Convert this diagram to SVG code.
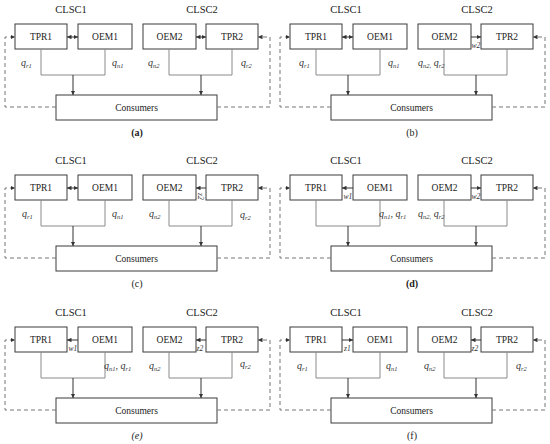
<svg xmlns="http://www.w3.org/2000/svg" width="550" height="444" viewBox="0 0 550 444">
<style>
.bg{fill:#fff}
.box{fill:#fff;stroke:#3a3a3a;stroke-width:1}
text{font-family:'Liberation Serif','Times New Roman','DejaVu Serif',serif}
.t{font-size:9.5px;fill:#222;text-anchor:middle}
.h{font-size:10.5px;fill:#222;text-anchor:middle}
.cap{font-size:10px;fill:#222;text-anchor:middle}
.q{font-size:10px;font-style:italic;fill:#333}
.s{font-size:6.5px}
.sm{font-size:7.5px;font-style:italic;fill:#333}
.tree{fill:none;stroke:#8a8a8a;stroke-width:1}
.down{fill:none;stroke:#333;stroke-width:1;marker-end:url(#ah)}
.link{fill:none;stroke:#333;stroke-width:1}
.dash{fill:none;stroke:#777;stroke-width:1;stroke-dasharray:4 3}
</style>
<defs>
<marker id="ah" viewBox="0 0 6 6" refX="6" refY="3" markerWidth="4.5" markerHeight="4.5" markerUnits="userSpaceOnUse" orient="auto-start-reverse">
<path d="M0,0 L6,3 L0,6 z" fill="#333"/>
</marker>
</defs>
<rect class="bg" x="0" y="0" width="550" height="444"/>

<!-- Panel a -->
<g id="panel-a" transform="translate(0,0)">
<text class="h" x="71" y="13">CLSC1</text>
<text class="h" x="202" y="13">CLSC2</text>
<g id="a-tpr1"><rect class="box" x="15" y="24" width="52" height="25"/><text class="t" x="41" y="40">TPR1</text></g>
<g id="a-oem1"><rect class="box" x="78" y="24" width="54" height="25"/><text class="t" x="105" y="40">OEM1</text></g>
<g id="a-oem2"><rect class="box" x="143" y="24" width="53" height="25"/><text class="t" x="169.5" y="40">OEM2</text></g>
<g id="a-tpr2"><rect class="box" x="206" y="24" width="52" height="25"/><text class="t" x="232" y="40">TPR2</text></g>
<g id="a-cons"><rect class="box" x="56" y="95" width="161" height="25"/><text class="t" x="136.5" y="111">Consumers</text></g>
<g id="a-connectors">
<path class="tree" d="M41,49 V75 H105 V49"/>
<path class="tree" d="M169,49 V75 H232 V49"/>
<path class="down" d="M73,75 V95"/>
<path class="down" d="M201,75 V95"/>
<path class="link" d="M67,37 H78" marker-start="url(#ah)" marker-end="url(#ah)"/>
<path class="link" d="M196,37 H206" marker-start="url(#ah)" marker-end="url(#ah)"/>
<path class="dash" d="M56,107 H5 V37 H15" marker-end="url(#ah)"/>
<path class="dash" d="M217,107 H270 V37 H258" marker-end="url(#ah)"/>
<text class="q" x="21" y="66">q<tspan class="s" dy="2">r1</tspan></text>
<text class="q" x="112" y="66">q<tspan class="s" dy="2">n1</tspan></text>
<text class="q" x="148" y="66">q<tspan class="s" dy="2">n2</tspan></text>
<text class="q" x="241" y="66">q<tspan class="s" dy="2">r2</tspan></text>
</g>
<text class="cap" x="137" y="136" font-weight="bold">(a)</text>
</g>

<!-- Panel b -->
<g id="panel-b" transform="translate(275,0)">
<text class="h" x="71" y="13">CLSC1</text>
<text class="h" x="202" y="13">CLSC2</text>
<g id="b-tpr1"><rect class="box" x="15" y="24" width="52" height="25"/><text class="t" x="41" y="40">TPR1</text></g>
<g id="b-oem1"><rect class="box" x="78" y="24" width="54" height="25"/><text class="t" x="105" y="40">OEM1</text></g>
<g id="b-oem2"><rect class="box" x="143" y="24" width="53" height="25"/><text class="t" x="169.5" y="40">OEM2</text></g>
<g id="b-tpr2"><rect class="box" x="206" y="24" width="52" height="25"/><text class="t" x="232" y="40">TPR2</text></g>
<g id="b-cons"><rect class="box" x="56" y="95" width="161" height="25"/><text class="t" x="136.5" y="111">Consumers</text></g>
<g id="b-connectors">
<path class="tree" d="M41,49 V75 H105 V49"/>
<path class="tree" d="M169,49 V75 H232 V49"/>
<path class="down" d="M73,75 V95"/>
<path class="down" d="M201,75 V95"/>
<path class="link" d="M67,37 H78" marker-start="url(#ah)" marker-end="url(#ah)"/>
<path class="link" d="M196,37 H206" marker-end="url(#ah)"/>
<text class="sm" x="196.5" y="48">w2</text>
<path class="dash" d="M56,107 H5 V37 H15" marker-end="url(#ah)"/>
<path class="dash" d="M217,107 H270 V37 H258" marker-end="url(#ah)"/>
<text class="q" x="24" y="66">q<tspan class="s" dy="2">r1</tspan></text>
<text class="q" x="113" y="66">q<tspan class="s" dy="2">n1</tspan></text>
<text class="q" x="143" y="66">q<tspan class="s" dy="2">n2,</tspan><tspan dy="-2"> q</tspan><tspan class="s" dy="2">r2</tspan></text>
</g>
<text class="cap" x="137" y="136">(b)</text>
</g>

<!-- Panel c -->
<g id="panel-c" transform="translate(0,151)">
<text class="h" x="71" y="13">CLSC1</text>
<text class="h" x="202" y="13">CLSC2</text>
<g id="c-tpr1"><rect class="box" x="15" y="24" width="52" height="25"/><text class="t" x="41" y="40">TPR1</text></g>
<g id="c-oem1"><rect class="box" x="78" y="24" width="54" height="25"/><text class="t" x="105" y="40">OEM1</text></g>
<g id="c-oem2"><rect class="box" x="143" y="24" width="53" height="25"/><text class="t" x="169.5" y="40">OEM2</text></g>
<g id="c-tpr2"><rect class="box" x="206" y="24" width="52" height="25"/><text class="t" x="232" y="40">TPR2</text></g>
<g id="c-cons"><rect class="box" x="56" y="95" width="161" height="25"/><text class="t" x="136.5" y="111">Consumers</text></g>
<g id="c-connectors">
<path class="tree" d="M41,49 V75 H105 V49"/>
<path class="tree" d="M169,49 V75 H232 V49"/>
<path class="down" d="M73,75 V95"/>
<path class="down" d="M201,75 V95"/>
<path class="link" d="M67,37 H78" marker-start="url(#ah)" marker-end="url(#ah)"/>
<path class="link" d="M206,37 H196" marker-end="url(#ah)"/>
<text class="sm" x="0" y="0" transform="translate(198,42) rotate(90)">z2</text>
<path class="dash" d="M56,107 H5 V37 H15" marker-end="url(#ah)"/>
<path class="dash" d="M217,107 H270 V37 H258" marker-end="url(#ah)"/>
<text class="q" x="22" y="66">q<tspan class="s" dy="2">r1</tspan></text>
<text class="q" x="112" y="66">q<tspan class="s" dy="2">n1</tspan></text>
<text class="q" x="149" y="66">q<tspan class="s" dy="2">n2</tspan></text>
<text class="q" x="240" y="67">q<tspan class="s" dy="2">r2</tspan></text>
</g>
<text class="cap" x="137" y="136">(c)</text>
</g>

<!-- Panel d -->
<g id="panel-d" transform="translate(275,151)">
<text class="h" x="71" y="13">CLSC1</text>
<text class="h" x="202" y="13">CLSC2</text>
<g id="d-tpr1"><rect class="box" x="15" y="24" width="52" height="25"/><text class="t" x="41" y="40">TPR1</text></g>
<g id="d-oem1"><rect class="box" x="78" y="24" width="54" height="25"/><text class="t" x="105" y="40">OEM1</text></g>
<g id="d-oem2"><rect class="box" x="143" y="24" width="53" height="25"/><text class="t" x="169.5" y="40">OEM2</text></g>
<g id="d-tpr2"><rect class="box" x="206" y="24" width="52" height="25"/><text class="t" x="232" y="40">TPR2</text></g>
<g id="d-cons"><rect class="box" x="56" y="95" width="161" height="25"/><text class="t" x="136.5" y="111">Consumers</text></g>
<g id="d-connectors">
<path class="tree" d="M41,49 V75 H105 V49"/>
<path class="tree" d="M169,49 V75 H232 V49"/>
<path class="down" d="M73,75 V95"/>
<path class="down" d="M201,75 V95"/>
<path class="link" d="M78,37 H67" marker-end="url(#ah)"/>
<text class="sm" x="68.5" y="48">w1</text>
<path class="link" d="M196,37 H206" marker-end="url(#ah)"/>
<text class="sm" x="196.5" y="48">w2</text>
<path class="dash" d="M56,107 H5 V37 H15" marker-end="url(#ah)"/>
<path class="dash" d="M217,107 H270 V37 H258" marker-end="url(#ah)"/>
<text class="q" x="104" y="66">q<tspan class="s" dy="2">n1</tspan><tspan dy="-2">, q</tspan><tspan class="s" dy="2">r1</tspan></text>
<text class="q" x="143" y="66">q<tspan class="s" dy="2">n2,</tspan><tspan dy="-2"> q</tspan><tspan class="s" dy="2">r2</tspan></text>
</g>
<text class="cap" x="137" y="136" font-weight="bold">(d)</text>
</g>

<!-- Panel e -->
<g id="panel-e" transform="translate(0,303)">
<text class="h" x="71" y="13">CLSC1</text>
<text class="h" x="202" y="13">CLSC2</text>
<g id="e-tpr1"><rect class="box" x="15" y="24" width="52" height="25"/><text class="t" x="41" y="40">TPR1</text></g>
<g id="e-oem1"><rect class="box" x="78" y="24" width="54" height="25"/><text class="t" x="105" y="40">OEM1</text></g>
<g id="e-oem2"><rect class="box" x="143" y="24" width="53" height="25"/><text class="t" x="169.5" y="40">OEM2</text></g>
<g id="e-tpr2"><rect class="box" x="206" y="24" width="52" height="25"/><text class="t" x="232" y="40">TPR2</text></g>
<g id="e-cons"><rect class="box" x="56" y="95" width="161" height="25"/><text class="t" x="136.5" y="111">Consumers</text></g>
<g id="e-connectors">
<path class="tree" d="M41,49 V75 H105 V49"/>
<path class="tree" d="M169,49 V75 H232 V49"/>
<path class="down" d="M73,75 V95"/>
<path class="down" d="M201,75 V95"/>
<path class="link" d="M78,37 H67" marker-end="url(#ah)"/>
<text class="sm" x="68.5" y="48">w1</text>
<path class="link" d="M206,37 H196" marker-end="url(#ah)"/>
<text class="sm" x="196.5" y="48">z2</text>
<path class="dash" d="M56,107 H5 V37 H15" marker-end="url(#ah)"/>
<path class="dash" d="M217,107 H270 V37 H258" marker-end="url(#ah)"/>
<text class="q" x="104" y="66">q<tspan class="s" dy="2">n1</tspan><tspan dy="-2">, q</tspan><tspan class="s" dy="2">r1</tspan></text>
<text class="q" x="149" y="66">q<tspan class="s" dy="2">n2</tspan></text>
<text class="q" x="240" y="64">q<tspan class="s" dy="2">r2</tspan></text>
</g>
<text class="cap" x="137" y="136" font-style="italic">(e)</text>
</g>

<!-- Panel f -->
<g id="panel-f" transform="translate(275,303)">
<text class="h" x="71" y="13">CLSC1</text>
<text class="h" x="202" y="13">CLSC2</text>
<g id="f-tpr1"><rect class="box" x="15" y="24" width="52" height="25"/><text class="t" x="41" y="40">TPR1</text></g>
<g id="f-oem1"><rect class="box" x="78" y="24" width="54" height="25"/><text class="t" x="105" y="40">OEM1</text></g>
<g id="f-oem2"><rect class="box" x="143" y="24" width="53" height="25"/><text class="t" x="169.5" y="40">OEM2</text></g>
<g id="f-tpr2"><rect class="box" x="206" y="24" width="52" height="25"/><text class="t" x="232" y="40">TPR2</text></g>
<g id="f-cons"><rect class="box" x="56" y="95" width="161" height="25"/><text class="t" x="136.5" y="111">Consumers</text></g>
<g id="f-connectors">
<path class="tree" d="M41,49 V75 H105 V49"/>
<path class="tree" d="M169,49 V75 H232 V49"/>
<path class="down" d="M73,75 V95"/>
<path class="down" d="M201,75 V95"/>
<path class="link" d="M67,37 H78" marker-end="url(#ah)"/>
<text class="sm" x="69" y="48">z1</text>
<path class="link" d="M206,37 H196" marker-end="url(#ah)"/>
<text class="sm" x="196.5" y="48">z2</text>
<path class="dash" d="M56,107 H5 V37 H15" marker-end="url(#ah)"/>
<path class="dash" d="M217,107 H270 V37 H258" marker-end="url(#ah)"/>
<text class="q" x="22" y="66">q<tspan class="s" dy="2">r1</tspan></text>
<text class="q" x="111" y="66">q<tspan class="s" dy="2">n1</tspan></text>
<text class="q" x="149" y="66">q<tspan class="s" dy="2">n2</tspan></text>
<text class="q" x="241" y="66">q<tspan class="s" dy="2">r2</tspan></text>
</g>
<text class="cap" x="137" y="136">(f)</text>
</g>
</svg>
